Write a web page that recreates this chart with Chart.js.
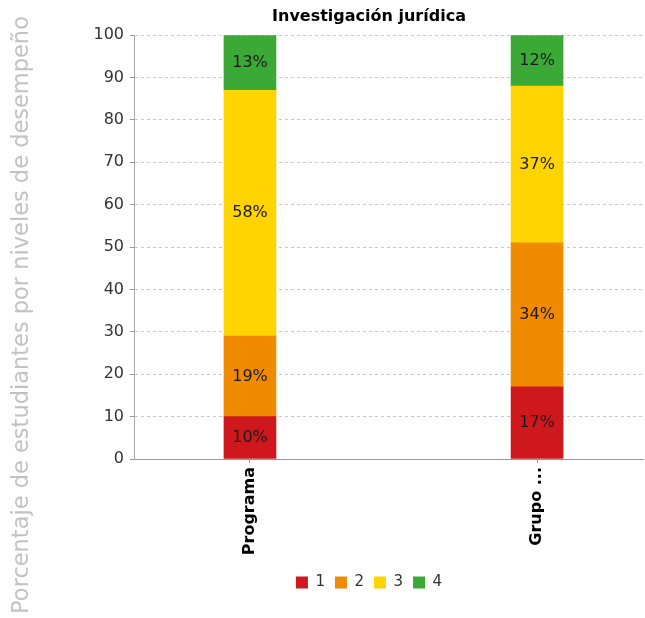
<!DOCTYPE html>
<html>
<head>
<meta charset="utf-8">
<script src="https://cdn.jsdelivr.net/npm/chart.js@4.4.1/dist/chart.umd.min.js"></script>
<style>
  html, body { margin: 0; padding: 0; background: #fff; }
  #wrap { width: 645px; height: 618px; position: relative; }
</style>
</head>
<body>
<div id="wrap"><canvas id="chart"></canvas></div>
<script>
// chart data
const categories = ["Programa", "Grupo ..."];
const levels = ["1", "2", "3", "4"];
const level1 = [10, 17];
const level2 = [19, 34];
const level3 = [58, 37];
const level4 = [13, 12];
const yTicks = [0, 10, 20, 30, 40, 50, 60, 70, 80, 90, 100];
const colors = ["#cf181d", "#f08a00", "#ffd400", "#3aa935"];

const chartTitle = "Investigación jurídica";
const yTitle = "Porcentaje de estudiantes por niveles de desempeño";

Chart.defaults.font.family = "'DejaVu Sans', sans-serif";

// build {x, y} points so bars sit on a linear x axis
const toPoints = (values) => values.map((v, i) => ({ x: i, y: v }));

// draws the percent inside each bar segment + the big grey y title
const extraText = {
  id: "extraText",
  afterDatasetsDraw(chart) {
    const ctx = chart.ctx;
    ctx.save();
    ctx.font = "16px 'DejaVu Sans'";
    ctx.fillStyle = "#1a1a1a";
    ctx.textAlign = "center";
    ctx.textBaseline = "middle";
    chart.data.datasets.forEach((ds, di) => {
      const meta = chart.getDatasetMeta(di);
      meta.data.forEach((bar, i) => {
        const v = ds.data[i].y;
        if (!v) return;
        ctx.fillText(v + "%", bar.x, (bar.y + bar.base) / 2);
      });
    });
    ctx.restore();
  },
  afterDraw(chart) {
    const ctx = chart.ctx;
    ctx.save();
    ctx.translate(22, 315);
    ctx.rotate(-Math.PI / 2);
    ctx.font = "22.5px 'DejaVu Sans'";
    ctx.fillStyle = "#c2c2c2";
    ctx.textAlign = "center";
    ctx.textBaseline = "middle";
    ctx.fillText(yTitle, 0, 0);
    ctx.restore();
  }
};

const ctx = document.getElementById("chart").getContext("2d");

new Chart(ctx, {
  type: "bar",
  data: {
    datasets: [
      { label: levels[0], data: toPoints(level1), backgroundColor: colors[0] },
      { label: levels[1], data: toPoints(level2), backgroundColor: colors[1] },
      { label: levels[2], data: toPoints(level3), backgroundColor: colors[2] },
      { label: levels[3], data: toPoints(level4), backgroundColor: colors[3] },
    ],
  },
  options: {
    responsive: true,
    maintainAspectRatio: false,
    animation: false,
    barThickness: 52,
    layout: {
      padding: { left: 95, right: 2, top: 0, bottom: 18 },
    },
    plugins: {
      title: {
        display: true,
        text: chartTitle,
        color: "#000",
        font: { size: 16, weight: "bold" },
        padding: { top: 7, bottom: 9 },
      },
      legend: {
        position: "bottom",
        labels: {
          boxWidth: 12,
          boxHeight: 12,
          padding: 10,
          color: "#333",
          font: { size: 15 },
        },
      },
      tooltip: { enabled: false },
    },
    scales: {
      x: {
        type: "linear",
        stacked: true,
        offset: false,
        min: -0.404,
        max: 1.369,
        afterBuildTicks: (scale) => {
          scale.ticks = categories.map((c, i) => ({ value: i }));
        },
        afterFit: (scale) => {
          scale.height = 106;
        },
        ticks: {
          minRotation: 90,
          maxRotation: 90,
          padding: 4,
          color: "#000",
          font: { size: 16, weight: "bold" },
          callback: (value) => categories[value],
        },
        grid: {
          offset: false,
          drawOnChartArea: false,
          drawTicks: true,
          tickLength: 4,
          tickColor: "#999",
        },
        border: { display: true, color: "#999", width: 1 },
      },
      y: {
        stacked: true,
        min: 0,
        max: 100,
        afterBuildTicks: (scale) => {
          scale.ticks = yTicks.map((v) => ({ value: v }));
        },
        afterFit: (scale) => {
          scale.width = 39;
        },
        ticks: {
          padding: 6,
          color: "#333",
          font: { size: 16 },
        },
        grid: {
          color: "#c8c8c8",
          tickColor: "#999",
          tickLength: 4,
        },
        border: { display: true, color: "#aaa", width: 1, dash: [3, 3] },
      },
    },
  },
  plugins: [extraText],
});
</script>
</body>
</html>
